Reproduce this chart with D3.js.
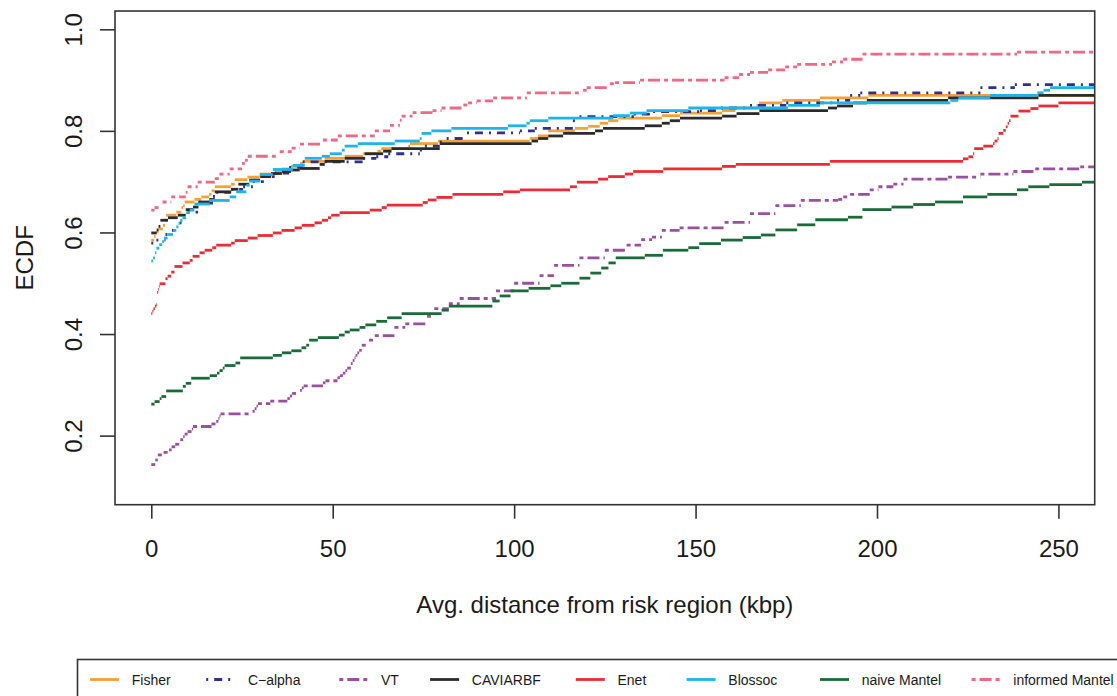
<!DOCTYPE html>
<html><head><meta charset="utf-8">
<script src="https://cdn.jsdelivr.net/npm/d3@7"></script>
<style>
body{margin:0;background:#fff}
svg{display:block}
text{font-family:"Liberation Sans",Arial,Helvetica,sans-serif;fill:#1a1a1a}
</style>
</head><body>
<svg id="chart" width="1117" height="696"></svg>
<script>
// ---- data: ECDF step functions, [distance kbp, ECDF level] at each jump ----
const fisher = [[0,0.585],[0.8,0.592],[1.2,0.601],[2,0.607],[3.2,0.614],[3.8,0.624],[4.1,0.634],[6.9,0.640],[8.3,0.649],[8.8,0.653],[9.2,0.660],[11.9,0.665],[13.8,0.670],[15.9,0.675],[16.6,0.682],[17.5,0.690],[22,0.695],[23,0.704],[26.5,0.709],[29.9,0.715],[34,0.720],[36,0.725],[38.5,0.730],[41,0.736],[41.8,0.740],[47.8,0.746],[53.3,0.750],[58.4,0.755],[62.3,0.760],[63.4,0.765],[70.8,0.770],[71.3,0.775],[79,0.780],[104.3,0.785],[106.6,0.790],[109.4,0.800],[116.7,0.805],[120.4,0.809],[123.6,0.815],[125.9,0.820],[128.7,0.825],[140.7,0.830],[145.7,0.835],[157.3,0.840],[161,0.845],[166.8,0.850],[167.5,0.855],[173.9,0.860],[184.3,0.865],[197.6,0.870]];
const calpha = [[0,0.579],[1.4,0.585],[3.9,0.596],[5.7,0.604],[7.8,0.619],[10,0.640],[12.9,0.658],[17,0.671],[17.9,0.679],[22,0.685],[25.3,0.690],[28,0.700],[31,0.710],[34,0.717],[38,0.728],[41.7,0.739],[58.4,0.746],[62,0.749],[65.3,0.755],[74,0.762],[75.4,0.770],[79.5,0.778],[81.4,0.785],[87,0.796],[101.6,0.800],[105.7,0.805],[116.2,0.820],[118,0.828],[133,0.833],[138.3,0.838],[151.2,0.840],[157,0.845],[165,0.850],[175,0.855],[189,0.860],[192.6,0.870],[195.4,0.875],[228.5,0.885],[238,0.891]];
const vt = [[0,0.143],[1.1,0.152],[1.8,0.162],[3.4,0.167],[4.9,0.172],[5.6,0.178],[6.6,0.183],[8,0.192],[8.8,0.198],[9.2,0.203],[10,0.208],[11.2,0.213],[11.5,0.218],[16.6,0.223],[17.9,0.228],[18.5,0.234],[18.8,0.239],[19.1,0.243],[27.9,0.248],[28.5,0.253],[29,0.258],[29.4,0.263],[32.8,0.268],[37.5,0.273],[38.2,0.278],[38.8,0.283],[41,0.289],[41.5,0.294],[42,0.298],[47.3,0.304],[48,0.308],[51.3,0.314],[52,0.318],[52.8,0.323],[53.5,0.328],[54,0.333],[55,0.342],[55.5,0.348],[56,0.353],[56.3,0.358],[56.8,0.363],[57.3,0.368],[58,0.378],[60,0.388],[61.6,0.397],[67,0.413],[70,0.420],[76,0.435],[78,0.450],[82,0.460],[85,0.470],[95,0.485],[100,0.500],[107,0.515],[111,0.535],[118,0.550],[125,0.565],[131,0.575],[135,0.586],[138,0.591],[140.7,0.604],[145.6,0.609],[158,0.620],[165,0.637],[172,0.653],[179,0.663],[189.3,0.665],[190.7,0.670],[192.6,0.675],[198,0.684],[200.4,0.690],[204.5,0.695],[207.3,0.705],[219.6,0.709],[228.5,0.715],[237.6,0.720],[243.6,0.725],[256,0.729]];
const caviarbf = [[0,0.599],[1.5,0.605],[2,0.612],[2.5,0.624],[4.6,0.629],[7.3,0.634],[9.5,0.645],[11.5,0.650],[13,0.660],[16,0.665],[17.5,0.680],[22,0.685],[24,0.695],[27,0.703],[30,0.710],[33,0.716],[36,0.720],[38.5,0.723],[40.9,0.726],[46.4,0.734],[47.8,0.740],[53.3,0.746],[58.8,0.755],[63.9,0.760],[66.2,0.765],[79.5,0.775],[104.8,0.780],[106.6,0.785],[109.4,0.790],[113.5,0.795],[122.3,0.800],[124.5,0.805],[136,0.810],[140.7,0.815],[142.9,0.820],[145.7,0.825],[157.3,0.829],[161.3,0.834],[167.6,0.840],[186.5,0.845],[189,0.849],[193.4,0.855],[197.2,0.860],[219.6,0.865],[244.5,0.870]];
const enet = [[0,0.440],[0.3,0.445],[0.6,0.450],[1,0.455],[1.4,0.458],[1.6,0.482],[1.9,0.488],[2.1,0.494],[2.3,0.499],[3.9,0.509],[4.5,0.514],[5.5,0.522],[6.4,0.533],[8.6,0.540],[10.6,0.545],[11.4,0.553],[13.3,0.560],[14.7,0.565],[16.8,0.570],[17.9,0.575],[22,0.579],[23,0.584],[26.6,0.589],[29.3,0.594],[33.5,0.599],[35.9,0.604],[39.5,0.609],[41.5,0.614],[45,0.619],[47,0.624],[48.7,0.629],[49.6,0.634],[51.9,0.639],[60.2,0.644],[63.5,0.649],[64.9,0.654],[74.8,0.659],[76.2,0.664],[78.6,0.669],[83,0.675],[97,0.680],[101.6,0.684],[115.4,0.690],[117.3,0.699],[123.1,0.705],[125.9,0.710],[130.5,0.715],[132.8,0.720],[141.1,0.725],[157.3,0.730],[161.1,0.734],[187,0.740],[223.7,0.745],[225.2,0.749],[226.5,0.755],[226.8,0.765],[229.3,0.770],[232,0.775],[232.4,0.780],[233.2,0.785],[233.5,0.795],[234.8,0.801],[235.5,0.808],[236,0.815],[236.4,0.820],[236.8,0.829],[239,0.839],[242.3,0.844],[244.5,0.849],[250,0.855]];
const blossoc = [[0,0.544],[0.5,0.550],[1,0.560],[1.4,0.569],[2.2,0.576],[3,0.582],[3.5,0.589],[4.5,0.596],[6,0.604],[6.9,0.611],[7.5,0.618],[8,0.624],[8.6,0.629],[9.6,0.639],[10.6,0.644],[11.9,0.656],[16.1,0.663],[21.6,0.670],[23.4,0.680],[26.2,0.693],[27.1,0.701],[29.9,0.714],[33.5,0.724],[39,0.732],[42.3,0.746],[47,0.750],[49.2,0.755],[52.5,0.762],[53.3,0.770],[56.9,0.775],[67.1,0.780],[74,0.785],[74.5,0.795],[77.2,0.800],[82.7,0.805],[98.3,0.810],[103.4,0.815],[104.3,0.820],[109.4,0.825],[127.3,0.830],[131.9,0.835],[136.5,0.840],[148,0.845],[175.5,0.850],[184.3,0.855],[220.2,0.860],[222.4,0.865],[231.2,0.870],[244.2,0.875],[245.9,0.880],[247.7,0.885]];
const naiveMantel = [[0,0.262],[0.9,0.267],[2.3,0.273],[2.8,0.277],[4.1,0.288],[8.7,0.297],[9.5,0.303],[11,0.313],[16.1,0.318],[18.1,0.323],[18.8,0.328],[19.7,0.333],[20.2,0.338],[23.2,0.343],[24.5,0.353],[33.5,0.358],[36,0.363],[38.6,0.367],[41.4,0.373],[42.7,0.378],[43.5,0.388],[45.9,0.393],[51.7,0.398],[53.3,0.404],[54.7,0.408],[57.4,0.413],[59,0.418],[62,0.425],[65,0.432],[69,0.440],[80,0.447],[82,0.455],[94,0.465],[96,0.475],[99,0.485],[104,0.490],[110,0.495],[113,0.500],[118,0.510],[121,0.520],[124,0.530],[126,0.540],[128,0.550],[136,0.555],[141,0.565],[148,0.570],[151,0.578],[157,0.585],[163,0.590],[168,0.595],[172,0.605],[178,0.615],[183,0.625],[192,0.630],[196,0.645],[204,0.650],[210,0.655],[216,0.660],[223.7,0.670],[230.4,0.675],[238.6,0.684],[241.7,0.690],[247.5,0.694],[256.5,0.699]];
const informedMantel = [[0,0.644],[0.9,0.649],[3.1,0.660],[5.5,0.670],[9.5,0.679],[10,0.690],[12.8,0.699],[17.5,0.706],[18.8,0.715],[21.6,0.725],[25,0.736],[25.8,0.742],[26.6,0.750],[35.4,0.759],[38.7,0.766],[41,0.774],[47.3,0.782],[51.4,0.790],[61.6,0.800],[65.8,0.811],[68.5,0.821],[69,0.829],[72,0.836],[77.5,0.840],[80,0.845],[86,0.851],[87.3,0.855],[89.7,0.859],[94.2,0.865],[103.5,0.875],[119,0.880],[120,0.885],[126.4,0.893],[127.8,0.895],[134.7,0.900],[158,0.905],[162,0.911],[165,0.915],[170,0.920],[174.7,0.926],[178,0.931],[187.6,0.936],[190.7,0.941],[196,0.951],[238.6,0.955]];

const seriesNames = ["Fisher","C\u2212alpha","VT","CAVIARBF","Enet","Blossoc","naive Mantel","informed Mantel"];
const seriesData = [fisher, calpha, vt, caviarbf, enet, blossoc, naiveMantel, informedMantel];
const xTicks = [0,50,100,150,200,250];
const yTicks = [0.2,0.4,0.6,0.8,1.0];
const xLabel = "Avg. distance from risk region (kbp)";
const yLabel = "ECDF";

// ---- styles ----
const seriesColors = ["#F7A033","#2E3192","#9B4F9F","#2B2B2B","#EE2B34","#1DB4EA","#1A6B3A","#F26784"];
const seriesDash = [null,"2,6,8,6","4,4,12,4",null,null,null,null,"4,4,12,4"];
const legendTextX = [131.8,247.9,381,471.8,617.5,728.3,861.7,1013.3];

const svg = d3.select("#chart");
const L = 115, R = 1094.7, T = 11, B = 504.7;
const x = d3.scaleLinear().domain([-10,260]).range([L,R]);
const y = d3.scaleLinear().domain([0.064,1.036]).range([B,T]);

// series
const plot = svg.append("g");
seriesData.forEach((d,i) => {
  const segs = d.map((p,j) => ({x0:p[0], x1: j < d.length-1 ? d[j+1][0] : 260, y:p[1]}));
  plot.append("g").selectAll("line").data(segs).join("line")
    .attr("x1", s => x(s.x0)).attr("x2", s => x(s.x1))
    .attr("y1", s => y(s.y)).attr("y2", s => y(s.y))
    .attr("stroke", seriesColors[i]).attr("stroke-width", 2.8)
    .attr("stroke-dasharray", seriesDash[i]);
});

// frame
svg.append("rect").attr("x",L).attr("y",T).attr("width",R-L).attr("height",B-T)
  .attr("fill","none").attr("stroke","#333").attr("stroke-width",1.6);

// x axis
const gx = svg.append("g").attr("transform",`translate(0,${B})`)
  .call(d3.axisBottom(x).tickValues(xTicks).tickSize(14).tickSizeOuter(0).tickFormat(d3.format("d")));
gx.select(".domain").remove();
gx.selectAll(".tick line").attr("stroke","#333").attr("stroke-width",1.6);
gx.selectAll(".tick text").attr("y",52.6).attr("dy",null).attr("font-size",24)
  .attr("font-family",null).style("fill","#1a1a1a");

// y axis
const gy = svg.append("g").attr("transform",`translate(${L},0)`)
  .call(d3.axisLeft(y).tickValues(yTicks).tickSize(15).tickSizeOuter(0).tickFormat(d3.format(".1f")));
gy.select(".domain").remove();
gy.selectAll(".tick line").attr("stroke","#333").attr("stroke-width",1.6);
gy.selectAll(".tick text").attr("x",null).attr("dy",null).attr("text-anchor","middle")
  .attr("transform","translate(-33.3,0) rotate(-90)").attr("font-size",24)
  .attr("font-family",null).style("fill","#1a1a1a");

// axis titles
svg.append("text").attr("x",(L+R)/2).attr("y",612.7).attr("text-anchor","middle")
  .attr("font-size",24).text(xLabel);
svg.append("text").attr("transform",`translate(33.3,${(T+B)/2}) rotate(-90)`)
  .attr("text-anchor","middle").attr("font-size",24).text(yLabel);

// legend
svg.append("rect").attr("x",77.5).attr("y",659.5).attr("width",1100).attr("height",100)
  .attr("fill","none").attr("stroke","#333").attr("stroke-width",1.6);
const lg = svg.append("g");
seriesNames.forEach((n,i) => {
  const tx = legendTextX[i];
  lg.append("line").attr("x1",tx-41.7).attr("x2",tx-12.7).attr("y1",679.5).attr("y2",679.5)
    .attr("stroke",seriesColors[i]).attr("stroke-width",2.8).attr("stroke-dasharray",seriesDash[i]);
  lg.append("text").attr("x",tx).attr("y",684.5).attr("font-size",14).text(n);
});
</script>
</body></html>
